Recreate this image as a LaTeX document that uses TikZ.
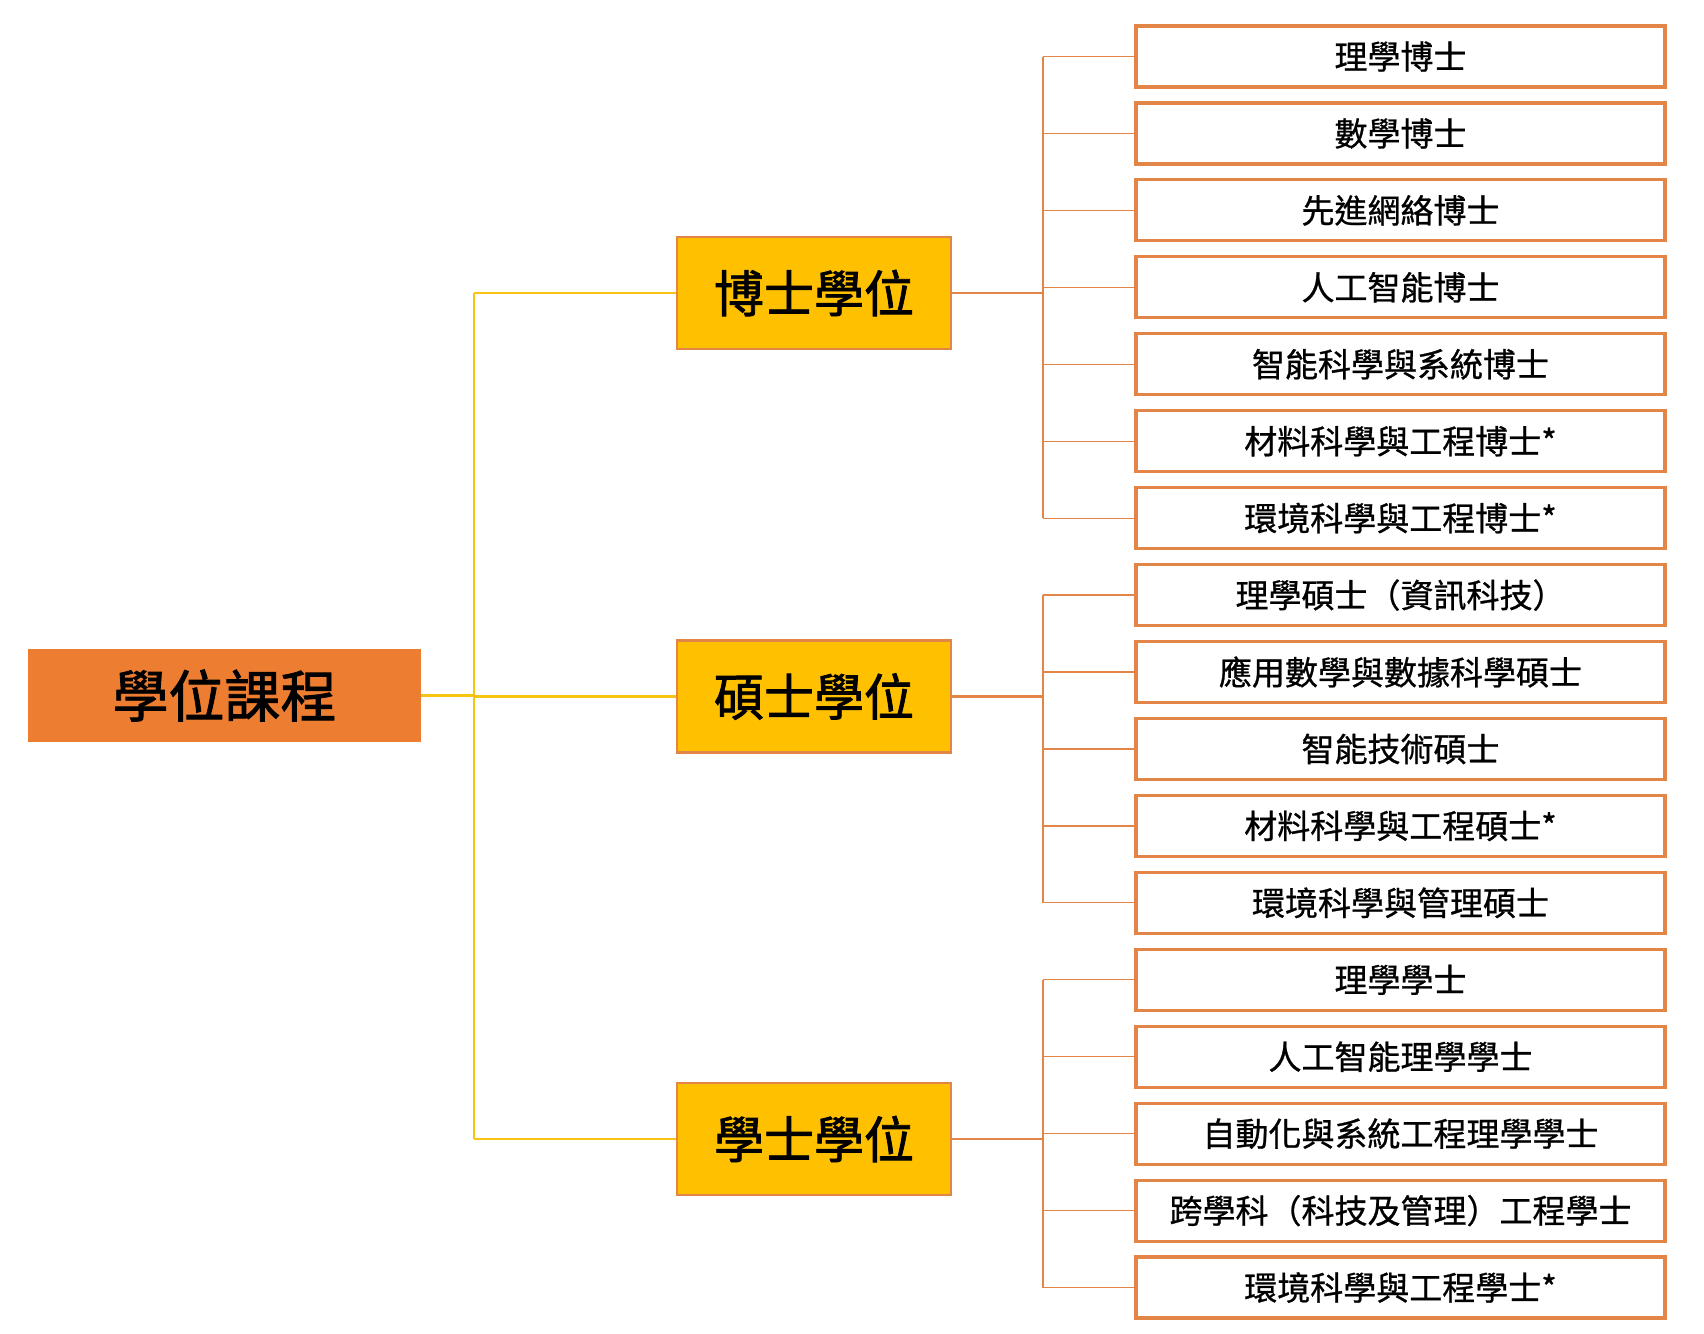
\documentclass[tikz,border=0pt]{standalone}
\usepackage{fontspec}
\usepackage{tikz}
\usetikzlibrary{positioning,calc}
\usepackage{xcolor}
\newfontfamily\cjk[FakeBold=0.8]{Noto Sans CJK TC}
\newfontfamily\cjkh[FakeBold=1.6]{Noto Sans CJK TC}
\definecolor{rootorange}{RGB}{237,125,49}
\definecolor{degyellow}{RGB}{255,192,0}
\definecolor{lineorange}{RGB}{226,134,72}
\definecolor{lineyellow}{RGB}{248,196,20}

\begin{document}
\begin{tikzpicture}[x=0.5pt,y=-0.5pt,every node/.style={font=\cjk,inner sep=0pt},
    rootbox/.style={fill=rootorange,minimum width=196.5pt,minimum height=46.5pt,font=\cjkh\fontsize{28pt}{32pt}\selectfont},
    degbox/.style={fill=degyellow,draw=lineorange,line width=1.2pt,minimum width=137pt,minimum height=56pt,font=\cjkh\fontsize{25pt}{30pt}\selectfont},
    leafbox/.style={draw=lineorange,line width=1.6pt,minimum width=264.5pt,minimum height=30.5pt,font=\cjk\fontsize{16.5pt}{20pt}\selectfont},
    rootline/.style={lineyellow,line width=1.4pt},
    midline/.style={lineorange,line width=1.2pt},
    leafline/.style={lineorange,line width=0.6pt}]
  \useasboundingbox (0,0) rectangle (1704,1334);

  % root and degree levels
  \node[rootbox] (root) at (224.5,695.5) {學位課程};
  \node[degbox] (phd) at (814,293) {博士學位};
  \node[degbox] (msc) at (814,696.5) {碩士學位};
  \node[degbox] (bsc) at (814,1139) {學士學位};

  % programmes
  \foreach \t [count=\i] in {理學博士,數學博士,先進網絡博士,人工智能博士,智能科學與系統博士,
      材料科學與工程博士*,環境科學與工程博士*,理學碩士（資訊科技）,應用數學與數據科學碩士,
      智能技術碩士,材料科學與工程碩士*,環境科學與管理碩士,理學學士,人工智能理學學士,
      自動化與系統工程理學學士,跨學科（科技及管理）工程學士,環境科學與工程學士*}{
    \node[leafbox] (l\i) at (1400.5,{56.5+(\i-1)*76.94}) {\t};
  }

  \coordinate (rbus) at (474,0);
  \coordinate (lbus) at (1043,0);

  % root to degrees
  \draw[rootline] (root.east) -- (root.east -| rbus);
  \draw[rootline] (phd.west -| rbus) -- (bsc.west -| rbus);
  \foreach \m in {phd,msc,bsc}{
    \draw[rootline] (\m.west -| rbus) -- (\m.west);
  }

  % degrees to programmes
  \foreach \m/\a/\b in {phd/1/7,msc/8/12,bsc/13/17}{
    \draw[midline] (\m.east) -- (\m.east -| lbus);
    \draw[leafline] (l\a.west -| lbus) -- (l\b.west -| lbus);
    \foreach \i in {\a,...,\b}{
      \draw[leafline] (l\i.west -| lbus) -- (l\i.west);
    }
  }
\end{tikzpicture}
\end{document}
